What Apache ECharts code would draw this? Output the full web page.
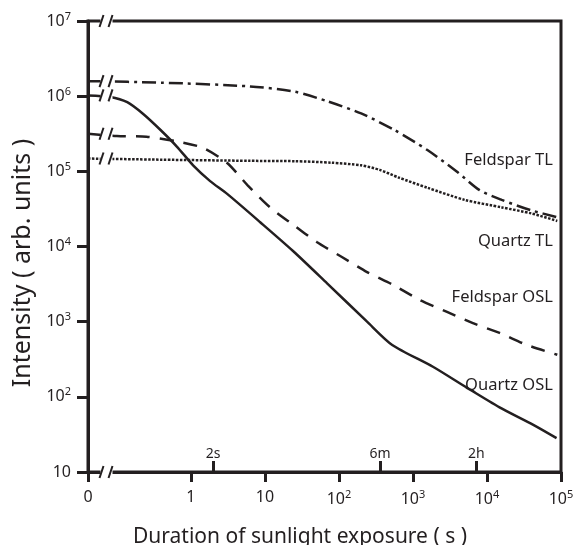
<!DOCTYPE html>
<html>
<head>
<meta charset="utf-8">
<script src="https://cdn.jsdelivr.net/npm/echarts@6/dist/echarts.min.js"></script>
<style>
html,body{margin:0;background:#fff}
#chart{width:583px;height:545px}
</style>
</head>
<body>
<div id="chart"></div>
<script>
// all values are log10: exposure time in s, intensity in arb. units
// the first point of each curve sits on the broken "0" origin of the time axis
var X_ZERO = -1.39
var X_BREAK = -1.14
var INK = '#231f20'
var FONT = 'Noto Sans'

var feldsparTL_t = [X_ZERO, -0.4, 0.8, 1.4, 1.85, 2.3, 2.75, 3.2, 3.6, 3.9, 4.2, 4.6, 4.95]
var feldsparTL_I = [6.20, 6.18, 6.13, 6.06, 5.93, 5.77, 5.55, 5.28, 4.99, 4.75, 4.62, 4.48, 4.39]

var quartzTL_t = [X_ZERO, -0.4, 0.8, 1.4, 1.9, 2.3, 2.55, 2.8, 3.2, 3.7, 4.2, 4.6, 4.95]
var quartzTL_I = [5.17, 5.155, 5.14, 5.135, 5.115, 5.08, 5.02, 4.92, 4.78, 4.62, 4.52, 4.44, 4.34]

var feldsparOSL_t = [X_ZERO, -1.0, -0.6, -0.2, 0.17, 0.49, 0.77, 1.07, 1.38, 1.7, 2.04, 2.38, 2.73, 3.09, 3.46, 3.81, 4.17, 4.54, 4.95]
var feldsparOSL_I = [5.50, 5.47, 5.46, 5.40, 5.31, 5.11, 4.81, 4.52, 4.29, 4.06, 3.86, 3.66, 3.49, 3.29, 3.13, 2.98, 2.85, 2.69, 2.56]

var quartzOSL_t = [X_ZERO, -1.09, -0.86, -0.64, -0.41, -0.19, 0.03, 0.26, 0.49, 0.94, 1.38, 1.84, 2.38, 2.72, 3.27, 3.73, 4.17, 4.62, 4.94]
var quartzOSL_I = [6.01, 5.99, 5.92, 5.76, 5.55, 5.33, 5.08, 4.87, 4.70, 4.32, 3.94, 3.51, 3.00, 2.69, 2.40, 2.12, 1.86, 1.63, 1.45]

var xTicks = [X_ZERO, 0, 1, 2, 3, 4, 5]
var yTicks = [1, 2, 3, 4, 5, 6, 7]
var markSeconds = [2, 360, 7200]
var markText = ['2s', '6m', '2h']

var curveNames = ['Feldspar TL', 'Quartz TL', 'Feldspar OSL', 'Quartz OSL']
var nameSpots = [[4.89, 5.15], [4.89, 4.07], [4.89, 3.33], [4.89, 2.16]]

function pairs(t, v) {
  return t.map(function (x, i) { return [x, v[i]] })
}

function powLabel(v) {
  if (v === X_ZERO) return '0'
  var e = Math.round(v)
  if (e === 0) return '1'
  if (e === 1) return '10'
  return '10{s|' + e + '}'
}

var sup = {fontSize: 11, fontFamily: FONT, color: INK, padding: [0, 0, 9, 0]}

function renderBreak(params, api) {
  var p = api.coord([api.value(0), api.value(1)])
  var st = {stroke: INK, lineWidth: 2}
  return {
    type: 'group',
    children: [
      {type: 'rect', shape: {x: p[0] - 6, y: p[1] - 4, width: 12, height: 8}, style: {fill: '#fff'}},
      {type: 'line', shape: {x1: p[0] - 7, y1: p[1] + 6, x2: p[0] - 3, y2: p[1] - 6}, style: st},
      {type: 'line', shape: {x1: p[0] + 2, y1: p[1] + 6, x2: p[0] + 6, y2: p[1] - 6}, style: st}
    ]
  }
}

function curve(name, t, v, type) {
  return {
    name: name,
    type: 'line',
    data: pairs(t, v),
    showSymbol: false,
    smooth: 0.25,
    lineStyle: {color: INK, width: 2.5, type: type},
    z: 2
  }
}

var breakData = [
  [X_BREAK, feldsparTL_I[0]], [X_BREAK, quartzTL_I[0]],
  [X_BREAK, feldsparOSL_I[0]], [X_BREAK, quartzOSL_I[0]],
  [X_BREAK, yTicks[0]], [X_BREAK, yTicks[yTicks.length - 1]]
]

var chart = echarts.init(document.getElementById('chart'))
chart.setOption({
  animation: false,
  grid: {left: 88, right: 22, top: 21, bottom: 73, outerBoundsMode: 'none', containLabel: false,
    show: true, borderColor: INK, borderWidth: 3},
  xAxis: [{
    type: 'value', min: X_ZERO, max: 5,
    name: 'Duration of sunlight exposure ( s )',
    nameLocation: 'middle', nameGap: 55,
    nameTextStyle: {fontFamily: FONT, fontSize: 21, color: INK, padding: [0, 49, 0, 0]},
    axisLine: {onZero: false, lineStyle: {color: INK, width: 3}},
    axisTick: {length: 10, lineStyle: {color: INK, width: 3}, customValues: xTicks},
    axisLabel: {customValues: xTicks, formatter: powLabel, margin: 17, fontFamily: FONT, fontSize: 16, color: INK, rich: {s: sup}},
    splitLine: {show: false}
  }, {
    type: 'value', min: X_ZERO, max: 5, position: 'bottom',
    axisLine: {show: false, onZero: false},
    axisTick: {inside: true, length: 11, lineStyle: {color: INK, width: 3}, customValues: markSeconds.map(Math.log10)},
    axisLabel: {
      inside: true, margin: 11, fontFamily: FONT, fontSize: 14, color: INK,
      customValues: markSeconds.map(Math.log10),
      formatter: function (v) {
        var i = markSeconds.findIndex(function (s) { return Math.abs(Math.log10(s) - v) < 1e-6 })
        return i < 0 ? '' : markText[i]
      }
    },
    splitLine: {show: false}
  }],
  yAxis: {
    type: 'value', min: 1, max: 7, interval: 1,
    name: 'Intensity ( arb. units )',
    nameLocation: 'middle', nameGap: 52,
    nameTextStyle: {fontFamily: FONT, fontSize: 25, color: INK, padding: [0, 33, 0, 0]},
    axisLine: {onZero: false, lineStyle: {color: INK, width: 3}},
    axisTick: {length: 11, lineStyle: {color: INK, width: 3}},
    axisLabel: {formatter: powLabel, margin: 17, fontFamily: FONT, fontSize: 16, color: INK, rich: {s: sup}},
    splitLine: {show: false}
  },
  series: [
    curve('Feldspar TL', feldsparTL_t, feldsparTL_I, [14, 5, 3, 5]),
    curve('Quartz TL', quartzTL_t, quartzTL_I, [2.5, 1.5]),
    curve('Feldspar OSL', feldsparOSL_t, feldsparOSL_I, [14, 10]),
    curve('Quartz OSL', quartzOSL_t, quartzOSL_I, 'solid'),
    {
      type: 'custom', renderItem: renderBreak, data: breakData, clip: false, z: 5, silent: true
    },
    {
      type: 'scatter', symbolSize: 0, silent: true, z: 6, itemStyle: {opacity: 1},
      data: curveNames.map(function (n, i) { return {name: n, value: nameSpots[i]} }),
      label: {show: true, position: 'left', distance: 0, formatter: '{b}', fontFamily: FONT, fontSize: 16.5, color: INK}
    }
  ]
})
</script>
</body>
</html>
